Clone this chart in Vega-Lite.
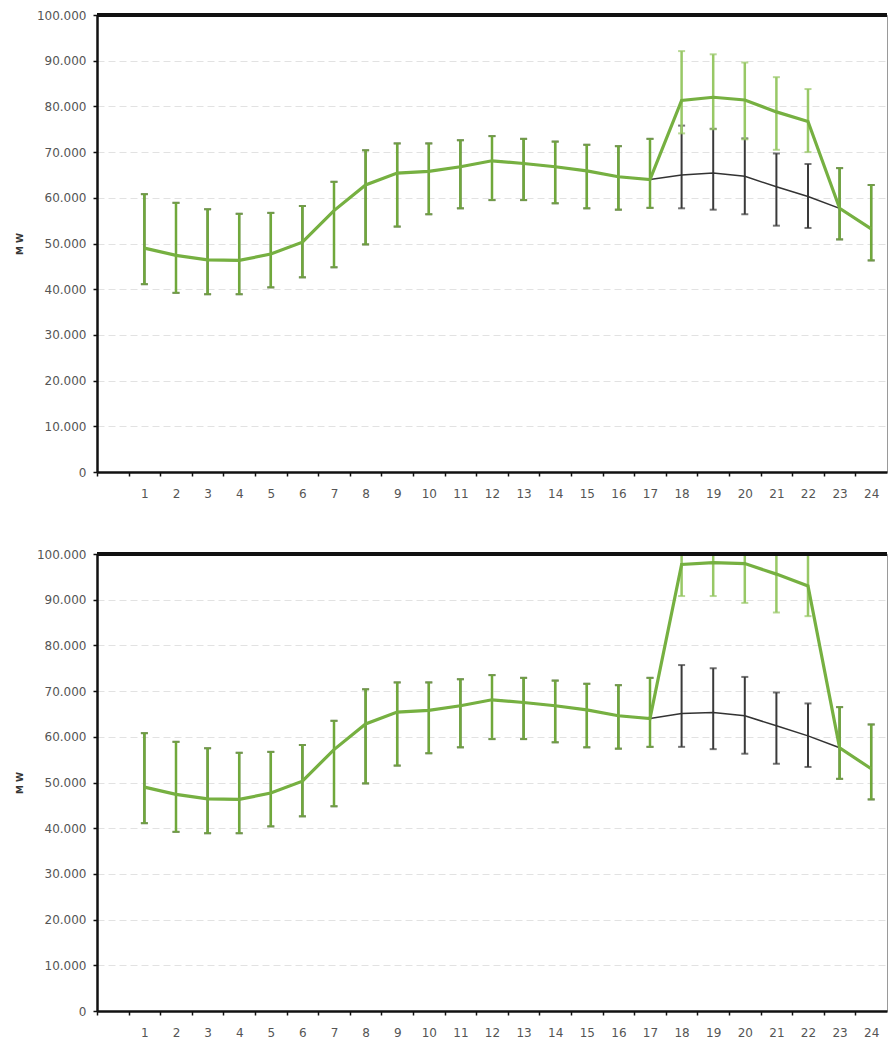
{
  "$schema": "https://vega.github.io/schema/vega-lite/v6.json",
  "padding": {"left": 14, "top": 8, "right": 0, "bottom": 5},
  "background": "white",
  "spacing": 47,
  "datasets": {
    "d": [
      {"panel": "A", "series": "Basis", "hour": 1, "mean": 49000, "lo": 41100, "hi": 60800, "changed": "nein"},
      {"panel": "A", "series": "Basis", "hour": 2, "mean": 47400, "lo": 39200, "hi": 58900, "changed": "nein"},
      {"panel": "A", "series": "Basis", "hour": 3, "mean": 46400, "lo": 38900, "hi": 57500, "changed": "nein"},
      {"panel": "A", "series": "Basis", "hour": 4, "mean": 46300, "lo": 38900, "hi": 56500, "changed": "nein"},
      {"panel": "A", "series": "Basis", "hour": 5, "mean": 47700, "lo": 40400, "hi": 56700, "changed": "nein"},
      {"panel": "A", "series": "Basis", "hour": 6, "mean": 50300, "lo": 42600, "hi": 58200, "changed": "nein"},
      {"panel": "A", "series": "Basis", "hour": 7, "mean": 57200, "lo": 44800, "hi": 63500, "changed": "nein"},
      {"panel": "A", "series": "Basis", "hour": 8, "mean": 62800, "lo": 49800, "hi": 70400, "changed": "nein"},
      {"panel": "A", "series": "Basis", "hour": 9, "mean": 65400, "lo": 53700, "hi": 71900, "changed": "nein"},
      {"panel": "A", "series": "Basis", "hour": 10, "mean": 65800, "lo": 56400, "hi": 71900, "changed": "nein"},
      {"panel": "A", "series": "Basis", "hour": 11, "mean": 66800, "lo": 57700, "hi": 72600, "changed": "nein"},
      {"panel": "A", "series": "Basis", "hour": 12, "mean": 68100, "lo": 59500, "hi": 73500, "changed": "nein"},
      {"panel": "A", "series": "Basis", "hour": 13, "mean": 67500, "lo": 59500, "hi": 72900, "changed": "nein"},
      {"panel": "A", "series": "Basis", "hour": 14, "mean": 66800, "lo": 58800, "hi": 72300, "changed": "nein"},
      {"panel": "A", "series": "Basis", "hour": 15, "mean": 65900, "lo": 57700, "hi": 71600, "changed": "nein"},
      {"panel": "A", "series": "Basis", "hour": 16, "mean": 64600, "lo": 57400, "hi": 71300, "changed": "nein"},
      {"panel": "A", "series": "Basis", "hour": 17, "mean": 64000, "lo": 57800, "hi": 72900, "changed": "nein"},
      {"panel": "A", "series": "Basis", "hour": 18, "mean": 65000, "lo": 57700, "hi": 75800, "changed": "nein"},
      {"panel": "A", "series": "Basis", "hour": 19, "mean": 65400, "lo": 57400, "hi": 75100, "changed": "nein"},
      {"panel": "A", "series": "Basis", "hour": 20, "mean": 64700, "lo": 56400, "hi": 73000, "changed": "nein"},
      {"panel": "A", "series": "Basis", "hour": 21, "mean": 62400, "lo": 53900, "hi": 69700, "changed": "nein"},
      {"panel": "A", "series": "Basis", "hour": 22, "mean": 60300, "lo": 53400, "hi": 67400, "changed": "nein"},
      {"panel": "A", "series": "Basis", "hour": 23, "mean": 57700, "lo": 50900, "hi": 66500, "changed": "nein"},
      {"panel": "A", "series": "Basis", "hour": 24, "mean": 53200, "lo": 46300, "hi": 62800, "changed": "nein"},
      {"panel": "A", "series": "Szenario", "hour": 1, "mean": 49000, "lo": 41100, "hi": 60800, "changed": "nein"},
      {"panel": "A", "series": "Szenario", "hour": 2, "mean": 47400, "lo": 39200, "hi": 58900, "changed": "nein"},
      {"panel": "A", "series": "Szenario", "hour": 3, "mean": 46400, "lo": 38900, "hi": 57500, "changed": "nein"},
      {"panel": "A", "series": "Szenario", "hour": 4, "mean": 46300, "lo": 38900, "hi": 56500, "changed": "nein"},
      {"panel": "A", "series": "Szenario", "hour": 5, "mean": 47700, "lo": 40400, "hi": 56700, "changed": "nein"},
      {"panel": "A", "series": "Szenario", "hour": 6, "mean": 50300, "lo": 42600, "hi": 58200, "changed": "nein"},
      {"panel": "A", "series": "Szenario", "hour": 7, "mean": 57200, "lo": 44800, "hi": 63500, "changed": "nein"},
      {"panel": "A", "series": "Szenario", "hour": 8, "mean": 62800, "lo": 49800, "hi": 70400, "changed": "nein"},
      {"panel": "A", "series": "Szenario", "hour": 9, "mean": 65400, "lo": 53700, "hi": 71900, "changed": "nein"},
      {"panel": "A", "series": "Szenario", "hour": 10, "mean": 65800, "lo": 56400, "hi": 71900, "changed": "nein"},
      {"panel": "A", "series": "Szenario", "hour": 11, "mean": 66800, "lo": 57700, "hi": 72600, "changed": "nein"},
      {"panel": "A", "series": "Szenario", "hour": 12, "mean": 68100, "lo": 59500, "hi": 73500, "changed": "nein"},
      {"panel": "A", "series": "Szenario", "hour": 13, "mean": 67500, "lo": 59500, "hi": 72900, "changed": "nein"},
      {"panel": "A", "series": "Szenario", "hour": 14, "mean": 66800, "lo": 58800, "hi": 72300, "changed": "nein"},
      {"panel": "A", "series": "Szenario", "hour": 15, "mean": 65900, "lo": 57700, "hi": 71600, "changed": "nein"},
      {"panel": "A", "series": "Szenario", "hour": 16, "mean": 64600, "lo": 57400, "hi": 71300, "changed": "nein"},
      {"panel": "A", "series": "Szenario", "hour": 17, "mean": 64000, "lo": 57800, "hi": 72900, "changed": "nein"},
      {"panel": "A", "series": "Szenario", "hour": 18, "mean": 81300, "lo": 74100, "hi": 92100, "changed": "ja"},
      {"panel": "A", "series": "Szenario", "hour": 19, "mean": 82000, "lo": 75000, "hi": 91400, "changed": "ja"},
      {"panel": "A", "series": "Szenario", "hour": 20, "mean": 81400, "lo": 72800, "hi": 89600, "changed": "ja"},
      {"panel": "A", "series": "Szenario", "hour": 21, "mean": 78800, "lo": 70500, "hi": 86400, "changed": "ja"},
      {"panel": "A", "series": "Szenario", "hour": 22, "mean": 76700, "lo": 70000, "hi": 83800, "changed": "ja"},
      {"panel": "A", "series": "Szenario", "hour": 23, "mean": 57700, "lo": 50900, "hi": 66500, "changed": "nein"},
      {"panel": "A", "series": "Szenario", "hour": 24, "mean": 53200, "lo": 46300, "hi": 62800, "changed": "nein"},
      {"panel": "B", "series": "Basis", "hour": 1, "mean": 49000, "lo": 41100, "hi": 60800, "changed": "nein"},
      {"panel": "B", "series": "Basis", "hour": 2, "mean": 47400, "lo": 39200, "hi": 58900, "changed": "nein"},
      {"panel": "B", "series": "Basis", "hour": 3, "mean": 46400, "lo": 38900, "hi": 57500, "changed": "nein"},
      {"panel": "B", "series": "Basis", "hour": 4, "mean": 46300, "lo": 38900, "hi": 56500, "changed": "nein"},
      {"panel": "B", "series": "Basis", "hour": 5, "mean": 47700, "lo": 40400, "hi": 56700, "changed": "nein"},
      {"panel": "B", "series": "Basis", "hour": 6, "mean": 50300, "lo": 42600, "hi": 58200, "changed": "nein"},
      {"panel": "B", "series": "Basis", "hour": 7, "mean": 57200, "lo": 44800, "hi": 63500, "changed": "nein"},
      {"panel": "B", "series": "Basis", "hour": 8, "mean": 62800, "lo": 49800, "hi": 70400, "changed": "nein"},
      {"panel": "B", "series": "Basis", "hour": 9, "mean": 65400, "lo": 53700, "hi": 71900, "changed": "nein"},
      {"panel": "B", "series": "Basis", "hour": 10, "mean": 65800, "lo": 56400, "hi": 71900, "changed": "nein"},
      {"panel": "B", "series": "Basis", "hour": 11, "mean": 66800, "lo": 57700, "hi": 72600, "changed": "nein"},
      {"panel": "B", "series": "Basis", "hour": 12, "mean": 68100, "lo": 59500, "hi": 73500, "changed": "nein"},
      {"panel": "B", "series": "Basis", "hour": 13, "mean": 67500, "lo": 59500, "hi": 72900, "changed": "nein"},
      {"panel": "B", "series": "Basis", "hour": 14, "mean": 66800, "lo": 58800, "hi": 72300, "changed": "nein"},
      {"panel": "B", "series": "Basis", "hour": 15, "mean": 65900, "lo": 57700, "hi": 71600, "changed": "nein"},
      {"panel": "B", "series": "Basis", "hour": 16, "mean": 64600, "lo": 57400, "hi": 71300, "changed": "nein"},
      {"panel": "B", "series": "Basis", "hour": 17, "mean": 64000, "lo": 57800, "hi": 72900, "changed": "nein"},
      {"panel": "B", "series": "Basis", "hour": 18, "mean": 65100, "lo": 57800, "hi": 75700, "changed": "nein"},
      {"panel": "B", "series": "Basis", "hour": 19, "mean": 65300, "lo": 57300, "hi": 75000, "changed": "nein"},
      {"panel": "B", "series": "Basis", "hour": 20, "mean": 64600, "lo": 56300, "hi": 73100, "changed": "nein"},
      {"panel": "B", "series": "Basis", "hour": 21, "mean": 62400, "lo": 54100, "hi": 69700, "changed": "nein"},
      {"panel": "B", "series": "Basis", "hour": 22, "mean": 60200, "lo": 53400, "hi": 67300, "changed": "nein"},
      {"panel": "B", "series": "Basis", "hour": 23, "mean": 57600, "lo": 50800, "hi": 66500, "changed": "nein"},
      {"panel": "B", "series": "Basis", "hour": 24, "mean": 53000, "lo": 46300, "hi": 62700, "changed": "nein"},
      {"panel": "B", "series": "Szenario", "hour": 1, "mean": 49000, "lo": 41100, "hi": 60800, "changed": "nein"},
      {"panel": "B", "series": "Szenario", "hour": 2, "mean": 47400, "lo": 39200, "hi": 58900, "changed": "nein"},
      {"panel": "B", "series": "Szenario", "hour": 3, "mean": 46400, "lo": 38900, "hi": 57500, "changed": "nein"},
      {"panel": "B", "series": "Szenario", "hour": 4, "mean": 46300, "lo": 38900, "hi": 56500, "changed": "nein"},
      {"panel": "B", "series": "Szenario", "hour": 5, "mean": 47700, "lo": 40400, "hi": 56700, "changed": "nein"},
      {"panel": "B", "series": "Szenario", "hour": 6, "mean": 50300, "lo": 42600, "hi": 58200, "changed": "nein"},
      {"panel": "B", "series": "Szenario", "hour": 7, "mean": 57200, "lo": 44800, "hi": 63500, "changed": "nein"},
      {"panel": "B", "series": "Szenario", "hour": 8, "mean": 62800, "lo": 49800, "hi": 70400, "changed": "nein"},
      {"panel": "B", "series": "Szenario", "hour": 9, "mean": 65400, "lo": 53700, "hi": 71900, "changed": "nein"},
      {"panel": "B", "series": "Szenario", "hour": 10, "mean": 65800, "lo": 56400, "hi": 71900, "changed": "nein"},
      {"panel": "B", "series": "Szenario", "hour": 11, "mean": 66800, "lo": 57700, "hi": 72600, "changed": "nein"},
      {"panel": "B", "series": "Szenario", "hour": 12, "mean": 68100, "lo": 59500, "hi": 73500, "changed": "nein"},
      {"panel": "B", "series": "Szenario", "hour": 13, "mean": 67500, "lo": 59500, "hi": 72900, "changed": "nein"},
      {"panel": "B", "series": "Szenario", "hour": 14, "mean": 66800, "lo": 58800, "hi": 72300, "changed": "nein"},
      {"panel": "B", "series": "Szenario", "hour": 15, "mean": 65900, "lo": 57700, "hi": 71600, "changed": "nein"},
      {"panel": "B", "series": "Szenario", "hour": 16, "mean": 64600, "lo": 57400, "hi": 71300, "changed": "nein"},
      {"panel": "B", "series": "Szenario", "hour": 17, "mean": 64000, "lo": 57800, "hi": 72900, "changed": "nein"},
      {"panel": "B", "series": "Szenario", "hour": 18, "mean": 97700, "lo": 90800, "hi": 108500, "changed": "ja"},
      {"panel": "B", "series": "Szenario", "hour": 19, "mean": 98100, "lo": 90800, "hi": 107500, "changed": "ja"},
      {"panel": "B", "series": "Szenario", "hour": 20, "mean": 97900, "lo": 89300, "hi": 106100, "changed": "ja"},
      {"panel": "B", "series": "Szenario", "hour": 21, "mean": 95600, "lo": 87200, "hi": 103200, "changed": "ja"},
      {"panel": "B", "series": "Szenario", "hour": 22, "mean": 93000, "lo": 86400, "hi": 101000, "changed": "ja"},
      {"panel": "B", "series": "Szenario", "hour": 23, "mean": 57600, "lo": 50800, "hi": 66500, "changed": "nein"},
      {"panel": "B", "series": "Szenario", "hour": 24, "mean": 53000, "lo": 46300, "hi": 62700, "changed": "nein"}
    ]
  },
  "config": {
    "font": "DejaVu Sans",
    "view": {"stroke": "#9a9a9a", "strokeWidth": 1},
    "axis": {
      "labelFont": "DejaVu Sans",
      "labelFontSize": 12,
      "labelColor": "#555555",
      "domainColor": "#111111",
      "domainWidth": 2.5,
      "tickColor": "#111111",
      "tickWidth": 1.5,
      "tickSize": 4
    }
  },
  "vconcat": [
    {
      "width": 790,
      "height": 457,
      "data": {"name": "d"},
      "transform": [{"filter": "datum.panel === 'A'"}],
      "encoding": {
        "x": {"field": "hour", "type": "quantitative", "scale": {"domain": [-0.5, 24.5], "nice": false, "zero": false},
          "axis": {"title": null, "grid": false, "values": [-0.5, 0.5, 1.5, 2.5, 3.5, 4.5, 5.5, 6.5, 7.5, 8.5, 9.5, 10.5, 11.5, 12.5, 13.5, 14.5, 15.5, 16.5, 17.5, 18.5, 19.5, 20.5, 21.5, 22.5, 23.5],
            "labelExpr": "datum.value < 0 ? '' : format(datum.value + 0.5, 'd')", "labelOffset": 15.8, "labelPadding": 12, "labelFlush": false, "labelOverlap": false}}
      },
      "layer": [
        {
          "transform": [{"filter": "datum.series === 'Basis'"}],
          "mark": {"type": "rule", "color": "#3a3a3a", "strokeWidth": 2},
          "encoding": {
            "y": {"field": "lo", "type": "quantitative", "scale": {"domain": [0, 100000], "nice": false},
              "axis": {"title": "M W", "titleFontSize": 9, "titleFontWeight": "bold", "titleColor": "#333333", "titlePadding": 12,
                "values": [0, 10000, 20000, 30000, 40000, 50000, 60000, 70000, 80000, 90000, 100000],
                "labelExpr": "replace(format(datum.value, ','), ',', '.')", "labelPadding": 7,
                "grid": true, "gridColor": "#e2e2e2", "gridDash": [7, 4], "gridWidth": 1}},
            "y2": {"field": "hi"}
          }
        },
        {
          "transform": [{"filter": "datum.series === 'Basis'"}],
          "mark": {"type": "tick", "orient": "horizontal", "color": "#3a3a3a", "size": 7, "thickness": 2},
          "encoding": {"y": {"field": "lo", "type": "quantitative"}}
        },
        {
          "transform": [{"filter": "datum.series === 'Basis'"}],
          "mark": {"type": "tick", "orient": "horizontal", "color": "#3a3a3a", "size": 7, "thickness": 2},
          "encoding": {"y": {"field": "hi", "type": "quantitative"}}
        },
        {
          "transform": [{"filter": "datum.series === 'Basis'"}],
          "mark": {"type": "line", "color": "#333333", "strokeWidth": 1.5},
          "encoding": {"y": {"field": "mean", "type": "quantitative"}}
        },
        {
          "transform": [{"filter": "datum.series === 'Szenario'"}],
          "mark": {"type": "rule", "strokeWidth": 2.5, "clip": true},
          "encoding": {
            "y": {"field": "lo", "type": "quantitative"},
            "y2": {"field": "hi"},
            "color": {"condition": {"test": "datum.changed === 'ja'", "value": "#98c866"}, "value": "#70a83b"}
          }
        },
        {
          "transform": [{"filter": "datum.series === 'Szenario'"}],
          "mark": {"type": "tick", "orient": "horizontal", "size": 7, "thickness": 2, "clip": true},
          "encoding": {"y": {"field": "lo", "type": "quantitative"},
            "color": {"condition": {"test": "datum.changed === 'ja'", "value": "#98c866"}, "value": "#70a83b"}}
        },
        {
          "transform": [{"filter": "datum.series === 'Szenario'"}],
          "mark": {"type": "tick", "orient": "horizontal", "size": 7, "thickness": 2, "clip": true},
          "encoding": {"y": {"field": "hi", "type": "quantitative"},
            "color": {"condition": {"test": "datum.changed === 'ja'", "value": "#98c866"}, "value": "#70a83b"}}
        },
        {
          "transform": [{"filter": "datum.series === 'Szenario'"}],
          "mark": {"type": "line", "color": "#76b041", "strokeWidth": 3.2, "clip": true},
          "encoding": {"y": {"field": "mean", "type": "quantitative"}}
        },
        {
          "mark": {"type": "rule", "color": "#111111", "strokeWidth": 2.5},
          "encoding": {"y": {"datum": 100000}, "x": {"value": 0}, "x2": {"value": 790}}
        }
      ]
    },
    {
      "width": 790,
      "height": 457,
      "data": {"name": "d"},
      "transform": [{"filter": "datum.panel === 'B'"}],
      "encoding": {
        "x": {"field": "hour", "type": "quantitative", "scale": {"domain": [-0.5, 24.5], "nice": false, "zero": false},
          "axis": {"title": null, "grid": false, "values": [-0.5, 0.5, 1.5, 2.5, 3.5, 4.5, 5.5, 6.5, 7.5, 8.5, 9.5, 10.5, 11.5, 12.5, 13.5, 14.5, 15.5, 16.5, 17.5, 18.5, 19.5, 20.5, 21.5, 22.5, 23.5],
            "labelExpr": "datum.value < 0 ? '' : format(datum.value + 0.5, 'd')", "labelOffset": 15.8, "labelPadding": 12, "labelFlush": false, "labelOverlap": false}}
      },
      "layer": [
        {
          "transform": [{"filter": "datum.series === 'Basis'"}],
          "mark": {"type": "rule", "color": "#3a3a3a", "strokeWidth": 2},
          "encoding": {
            "y": {"field": "lo", "type": "quantitative", "scale": {"domain": [0, 100000], "nice": false},
              "axis": {"title": "M W", "titleFontSize": 9, "titleFontWeight": "bold", "titleColor": "#333333", "titlePadding": 12,
                "values": [0, 10000, 20000, 30000, 40000, 50000, 60000, 70000, 80000, 90000, 100000],
                "labelExpr": "replace(format(datum.value, ','), ',', '.')", "labelPadding": 7,
                "grid": true, "gridColor": "#e2e2e2", "gridDash": [7, 4], "gridWidth": 1}},
            "y2": {"field": "hi"}
          }
        },
        {
          "transform": [{"filter": "datum.series === 'Basis'"}],
          "mark": {"type": "tick", "orient": "horizontal", "color": "#3a3a3a", "size": 7, "thickness": 2},
          "encoding": {"y": {"field": "lo", "type": "quantitative"}}
        },
        {
          "transform": [{"filter": "datum.series === 'Basis'"}],
          "mark": {"type": "tick", "orient": "horizontal", "color": "#3a3a3a", "size": 7, "thickness": 2},
          "encoding": {"y": {"field": "hi", "type": "quantitative"}}
        },
        {
          "transform": [{"filter": "datum.series === 'Basis'"}],
          "mark": {"type": "line", "color": "#333333", "strokeWidth": 1.5},
          "encoding": {"y": {"field": "mean", "type": "quantitative"}}
        },
        {
          "transform": [{"filter": "datum.series === 'Szenario'"}],
          "mark": {"type": "rule", "strokeWidth": 2.5, "clip": true},
          "encoding": {
            "y": {"field": "lo", "type": "quantitative"},
            "y2": {"field": "hi"},
            "color": {"condition": {"test": "datum.changed === 'ja'", "value": "#98c866"}, "value": "#70a83b"}
          }
        },
        {
          "transform": [{"filter": "datum.series === 'Szenario'"}],
          "mark": {"type": "tick", "orient": "horizontal", "size": 7, "thickness": 2, "clip": true},
          "encoding": {"y": {"field": "lo", "type": "quantitative"},
            "color": {"condition": {"test": "datum.changed === 'ja'", "value": "#98c866"}, "value": "#70a83b"}}
        },
        {
          "transform": [{"filter": "datum.series === 'Szenario'"}],
          "mark": {"type": "tick", "orient": "horizontal", "size": 7, "thickness": 2, "clip": true},
          "encoding": {"y": {"field": "hi", "type": "quantitative"},
            "color": {"condition": {"test": "datum.changed === 'ja'", "value": "#98c866"}, "value": "#70a83b"}}
        },
        {
          "transform": [{"filter": "datum.series === 'Szenario'"}],
          "mark": {"type": "line", "color": "#76b041", "strokeWidth": 3.2, "clip": true},
          "encoding": {"y": {"field": "mean", "type": "quantitative"}}
        },
        {
          "mark": {"type": "rule", "color": "#111111", "strokeWidth": 2.5},
          "encoding": {"y": {"datum": 100000}, "x": {"value": 0}, "x2": {"value": 790}}
        }
      ]
    }
  ]
}
